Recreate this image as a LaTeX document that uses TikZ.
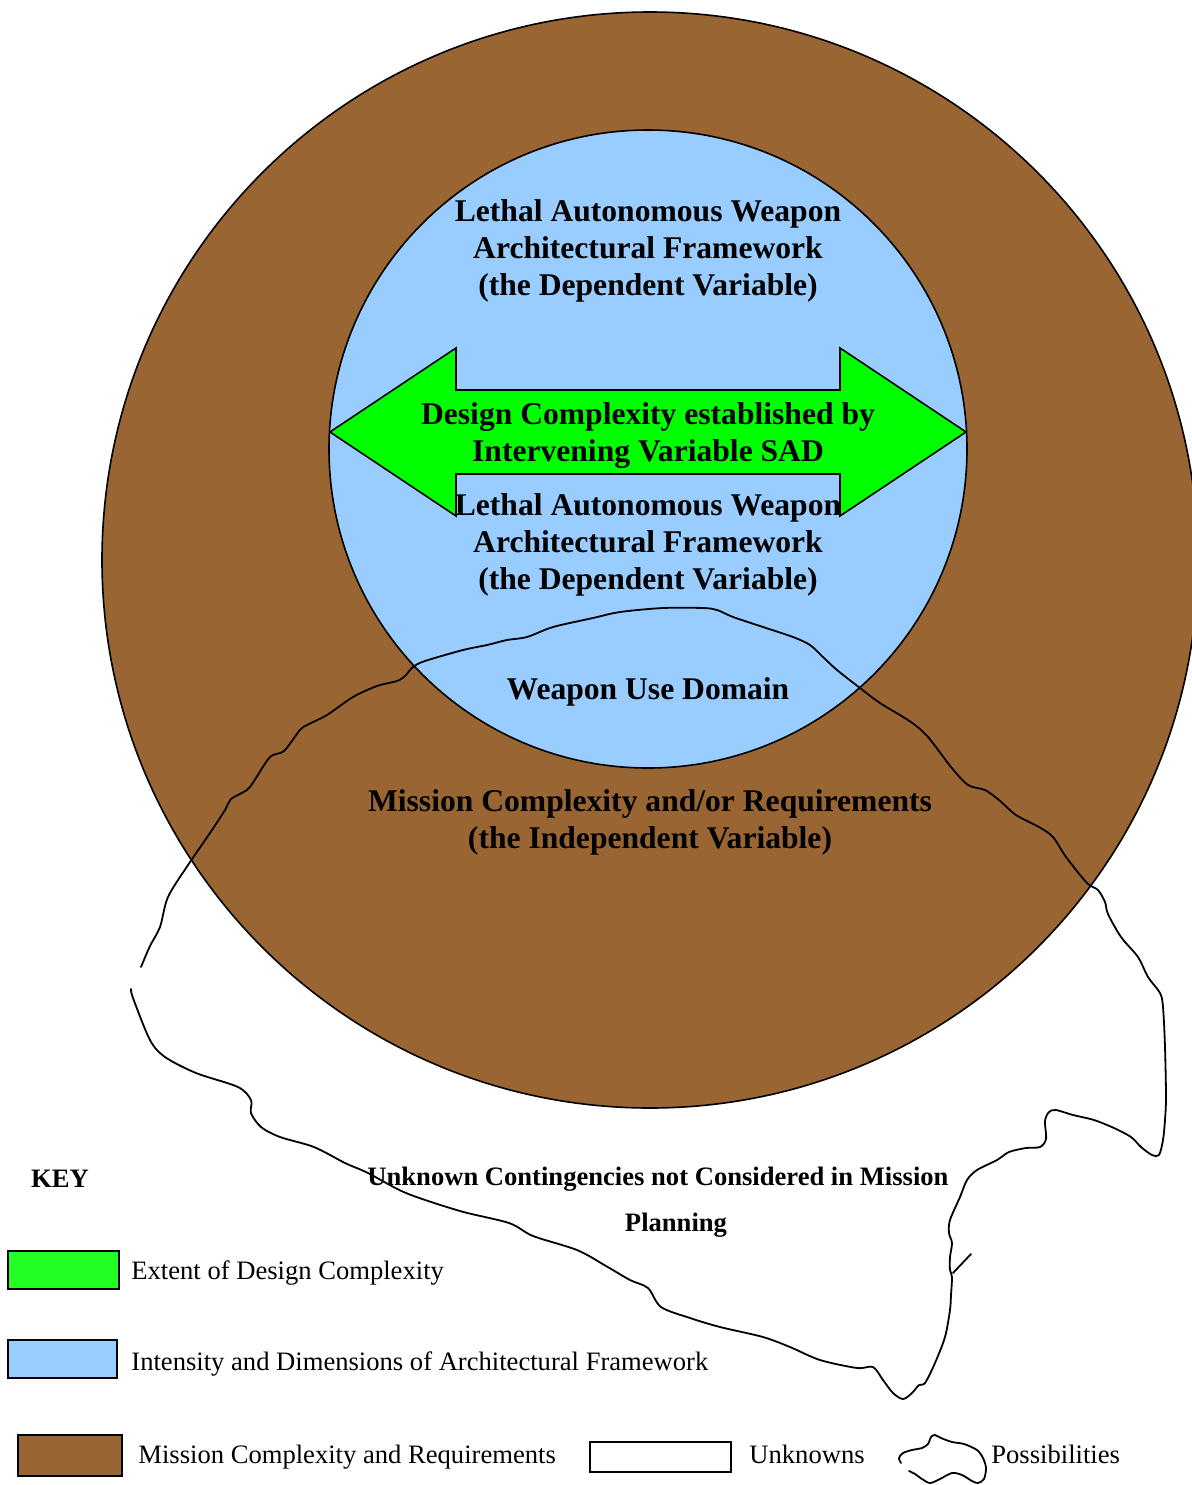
\documentclass[tikz,border=0pt]{standalone}
\usepackage{fontspec}
\setmainfont{Liberation Serif}
\definecolor{brownfill}{HTML}{996633}
\definecolor{bluefill}{HTML}{99CCFF}
\definecolor{arrowgreen}{HTML}{00FF00}
\definecolor{keygreen}{HTML}{22FF22}
\begin{document}
\begin{tikzpicture}[x=0.5pt,y=-0.5pt,
  ring/.style={draw=black,line width=0.8pt},
  bigtext/.style={font=\fontsize{15.8pt}{18.5pt}\selectfont\bfseries,align=center,inner sep=0pt},
  boldsmall/.style={font=\fontsize{13.3pt}{15pt}\selectfont\bfseries,inner sep=0pt},
  keytext/.style={font=\fontsize{13.3pt}{15pt}\selectfont,anchor=base west,inner sep=0pt},
  keybox/.style={draw=black,line width=1.1pt},
  wavy/.style={draw=black,line width=0.9pt,line join=round,line cap=round}]
\useasboundingbox (0,0) rectangle (1192,1485);
% circles
\fill[brownfill,ring] (650,560) circle[radius=548];
\coordinate (outerc) at (650,560);
\fill[bluefill,ring] (648,449) circle[radius=319];
\coordinate (innerc) at (648,449);
% double arrow
\filldraw[fill=arrowgreen,draw=black,line width=0.8pt]
  (330,432) -- (456,348) -- (456,390) -- (840,390) -- (840,348) -- (966,432)
  -- (840,516) -- (840,474) -- (456,474) -- (456,516) -- cycle;
% texts
\node[bigtext] (law1) at (648,251) {Lethal Autonomous Weapon\\Architectural Framework\\(the Dependent Variable)};
\node[bigtext] (dc) at (648,436) {Design Complexity established by\\Intervening Variable SAD};
\node[bigtext] (law2) at (648,545) {Lethal Autonomous Weapon\\Architectural Framework\\(the Dependent Variable)};
\node[bigtext] (wud) at (648,692) {Weapon Use Domain};
\node[bigtext] (mc) at (650,822) {Mission Complexity and/or Requirements\\(the Independent Variable)};
% wavy boundary
\draw[wavy] plot[smooth,tension=0.5] coordinates {
 (141,967) (150,946) (160,927) (168,897) (188,865) (210,833) (225,810) (231,799)
 (247,790) (254,781) (270,757) (284,751) (300,730) (309,724) (327,715) (353,697)
 (377,686) (397,681) (405,676) (413,667) (425,661) (463,650) (487,645) (507,640)
 (527,637) (553,627) (593,618) (620,612) (663,608) (703,608) (717,610) (733,617)
 (763,627) (793,637) (810,645) (823,657) (837,670) (860,688) (880,703) (911,722)
 (928,737) (951,767) (968,785) (985,790) (999,800) (1016,815) (1039,827) (1053,837)
 (1066,857) (1087,883) (1098,890) (1105,902) (1108,914) (1121,937) (1138,957)
 (1148,977) (1160,993) (1163,1007) (1165,1047) (1166,1097) (1165,1120) (1163,1140)
 (1159,1155) (1152,1155) (1141,1147) (1131,1137) (1114,1128) (1094,1120) (1073,1115)
 (1056,1110) (1049,1112) (1045,1121) (1046,1139) (1040,1147) (1026,1148) (1009,1152)
 (997,1160) (977,1170) (967,1180) (960,1197) (950,1220) (949,1233) (952,1243)
 (950,1257) (950,1270) (952,1277) (951,1295) (950,1310) (945,1337) (935,1363)
 (925,1383) (919,1385) (912,1393) (903,1399) (893,1393) (883,1380) (873,1367)
 (857,1368) (820,1360) (790,1347) (763,1337) (720,1327) (690,1318) (661,1307)
 (648,1288) (630,1280) (606,1266) (577,1250) (533,1236) (509,1223) (460,1211)
 (406,1193) (368,1173) (345,1163) (314,1147) (280,1137) (261,1127) (251,1113)
 (251,1100) (238,1087) (196,1073) (165,1057) (150,1040) (133,998) (131,989)};
\coordinate (tickA) at (953,1273);
\coordinate (tickB) at (971,1254);
\draw[wavy] (tickA) -- (tickB);
% unknown contingencies label
\node[boldsmall] (uc1) at (658,1179) {Unknown Contingencies not Considered in Mission};
\node[boldsmall] (uc2) at (676,1225) {Planning};
% key
\node[boldsmall] (key) at (60,1179) {KEY};
\draw[keybox,fill=keygreen] (8,1251) rectangle (119,1289);
\node[keytext] (k1) at (131,1279) {Extent of Design Complexity};
\draw[keybox,fill=bluefill] (8,1340) rectangle (117,1378);
\node[keytext] (k2) at (131,1370) {Intensity and Dimensions of Architectural Framework};
\draw[keybox,fill=brownfill] (18,1435) rectangle (122,1476);
\node[keytext] (k3) at (138,1463) {Mission Complexity and Requirements};
\draw[keybox,fill=white] (590,1442) rectangle (731,1472);
\node[keytext] (k4) at (749,1463) {Unknowns};
\draw[wavy] plot[smooth,tension=0.5] coordinates {
 (901,1463) (899,1458) (903,1453) (912,1450) (922,1448) (928,1444) (931,1437) (935,1435)
 (941,1438) (952,1442) (964,1444) (977,1450) (983,1458) (986,1468) (984,1479) (978,1483)
 (972,1481) (962,1475) (952,1473) (940,1479) (930,1483) (922,1479) (915,1474) (909,1471)};
\node[keytext] (k5) at (991,1463) {Possibilities};
\end{tikzpicture}
\end{document}
